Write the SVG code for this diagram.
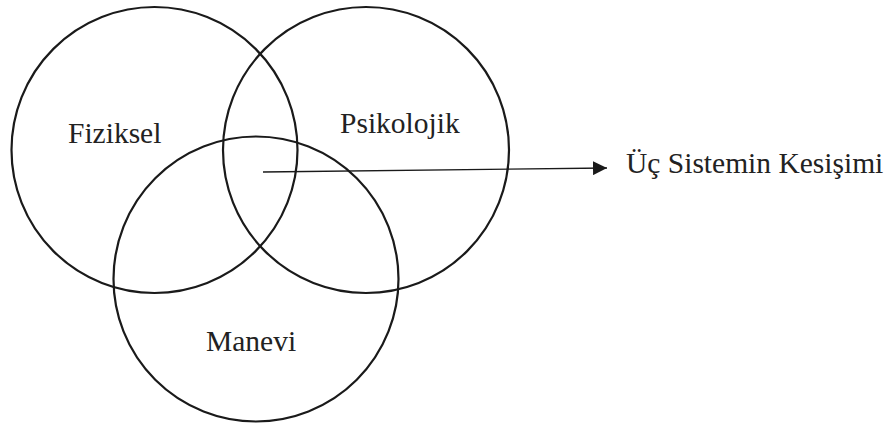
<svg xmlns="http://www.w3.org/2000/svg" width="893" height="423" viewBox="0 0 893 423">
<style>
.c{fill:none;stroke:#1a1a1a;stroke-width:2.2}
.t{font-family:"Liberation Serif","Times New Roman",serif;font-size:29.5px;fill:#222}
.a{stroke:#1a1a1a;stroke-width:1.4;fill:none}
</style>
<defs>
<marker id="ah" markerWidth="14" markerHeight="14" refX="14" refY="7" orient="auto" markerUnits="userSpaceOnUse">
<path d="M0,0 L14,7 L0,14 Z" fill="#1a1a1a"/>
</marker>
</defs>
<rect width="893" height="423" fill="#fff"/>
<g id="fiziksel">
<circle class="c" cx="154.5" cy="150" r="143"/>
<text class="t" x="68" y="143">Fiziksel</text>
</g>
<g id="psikolojik">
<circle class="c" cx="366" cy="150" r="143"/>
<text class="t" x="340" y="133">Psikolojik</text>
</g>
<g id="manevi">
<circle class="c" cx="256" cy="279" r="142.5"/>
<text class="t" x="206" y="351">Manevi</text>
</g>
<g id="connectors">
<line class="a" x1="263" y1="172" x2="607" y2="168" marker-end="url(#ah)"/>
</g>
<g id="kesisim">
<text class="t" x="626" y="173">Üç Sistemin Kesişimi</text>
</g>
</svg>
